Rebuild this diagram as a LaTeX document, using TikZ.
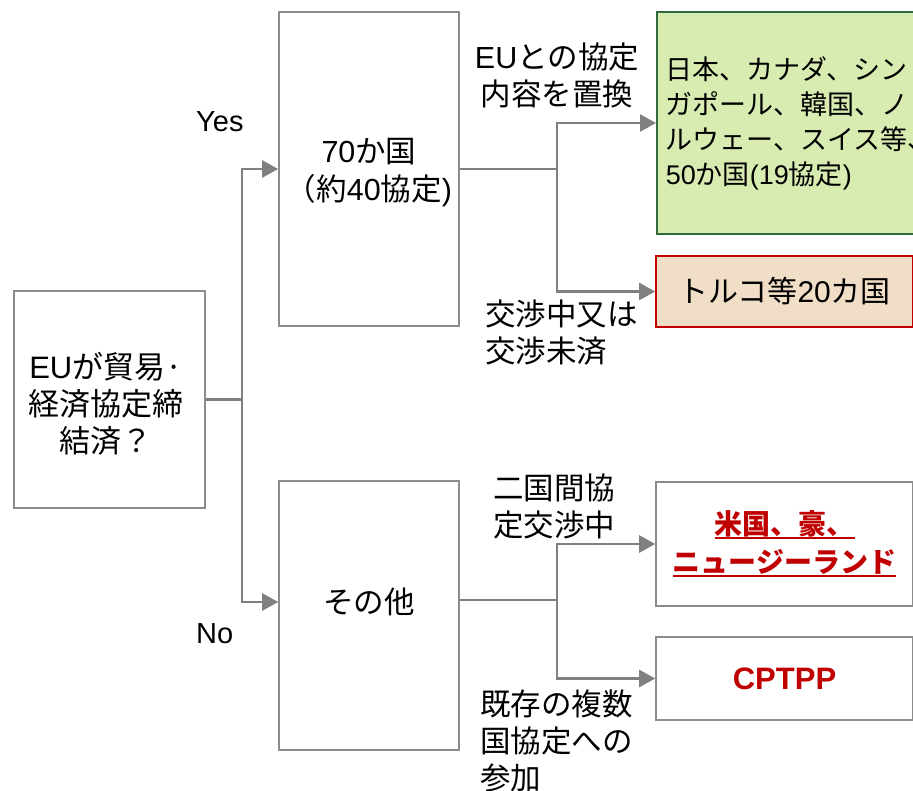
\documentclass[tikz,border=0pt]{standalone}
\usepackage{fontspec}
\setmainfont{Noto Sans CJK JP}
\newfontfamily\latf{Liberation Sans}
\newcommand\ltn[1]{{\latf #1}}
\newcommand\uline[1]{\setbox0\hbox{#1}\rlap{\rule[-4pt]{\wd0}{1.8pt}}\box0}
\usetikzlibrary{arrows.meta}
\definecolor{linegray}{HTML}{808080}
\definecolor{boxgray}{HTML}{8C8C8C}
\definecolor{greenfill}{HTML}{D8EBB0}
\definecolor{greenedge}{HTML}{2F6B3C}
\definecolor{tanfill}{HTML}{F1DEC6}
\definecolor{redc}{HTML}{C00000}
\tikzset{
  box/.style={draw=boxgray, line width=1.6pt, inner sep=0pt, align=center},
  conn/.style={draw=linegray, line width=2.6pt},
  arr/.style={conn, -{Triangle[length=16pt,width=17pt]}},
  lab/.style={inner sep=0pt, font=\fontsize{30.5}{37}\selectfont}
}
\begin{document}
\begin{tikzpicture}[x=1pt,y=-1pt]
\useasboundingbox (0,0) rectangle (913,791);
\clip (0,0) rectangle (913,791);
% boxes
\node[box, minimum width=191pt, minimum height=217pt] (q) at (109.5,399.5) {};
\node[inner sep=0pt, align=center, font=\fontsize{31}{37}\selectfont] (qtxt) at (106,404) {\ltn{EU}が貿易·\\経済協定締\\結済？};
\node[box, minimum width=180pt, minimum height=314pt] (yes) at (369,169) {};
\node[inner sep=0pt, align=center, font=\fontsize{30.5}{38}\selectfont] (yestxt) at (369,173) {\ltn{70}か国\\（約\ltn{40}協定\ltn{)}};
\node[box, minimum width=180pt, minimum height=269pt] (oth) at (369,615.5) {};
\node[lab] (othtxt) at (369,602) {その他};
\node[box, draw=greenedge, fill=greenfill, anchor=west, inner xsep=9pt, minimum height=222pt, align=left, font=\fontsize{27}{35}\selectfont] (jp) at (656,123) {日本、カナダ、シン\\ガポール、韓国、ノ\\ルウェー、スイス等、\\\ltn{50}か国\ltn{(19}協定\ltn{)}};
\node[box, draw=redc, fill=tanfill, minimum width=257pt, minimum height=71pt, font=\fontsize{30}{36}\selectfont] (tr) at (784.5,291.5) {トルコ等\ltn{20}カ国};
\node[box, minimum width=257pt, minimum height=124pt, text=redc, font=\bfseries\fontsize{28}{38}\selectfont] (us) at (784.5,544) {\uline{米国、豪、}\\\uline{ニュージーランド}};
\node[box, minimum width=257pt, minimum height=83pt, text=redc, font=\latf\bfseries\fontsize{31}{36}\selectfont] (cp) at (784.5,678.5) {CPTPP};
% labels
\node[lab, font=\latf\fontsize{29}{34}\selectfont, anchor=west] (ly) at (196,122) {Yes};
\node[lab, font=\latf\fontsize{29}{34}\selectfont, anchor=west] (ln) at (196,634) {No};
\node[lab, align=center] (l1) at (557,75) {\ltn{EU}との協定\\内容を置換};
\node[lab, align=left, anchor=west] (l2) at (485,333) {交渉中又は\\交渉未済};
\node[lab, align=left, anchor=west] (l3) at (493,506) {二国間協\\定交渉中};
\node[lab, align=left, anchor=west] (l4) at (480,741) {既存の複数\\国協定への\\参加};
% connectors
\coordinate (j1) at (242,399.5);
\draw[conn] (q.east) -- (j1);
\draw[arr] (j1) |- (yes.west);
\draw[arr] (j1) |- (oth.west |- othtxt.center);
\coordinate (j2) at (557,169);
\draw[conn] (yes.east) -- (j2);
\draw[arr] (j2) |- (jp.west);
\draw[arr] (j2) |- (tr.west);
\coordinate (j3) at (557,600);
\draw[conn] (oth.east |- j3) -- (j3);
\draw[arr] (j3) |- (us.west);
\draw[arr] (j3) |- (cp.west);
\end{tikzpicture}
\end{document}
